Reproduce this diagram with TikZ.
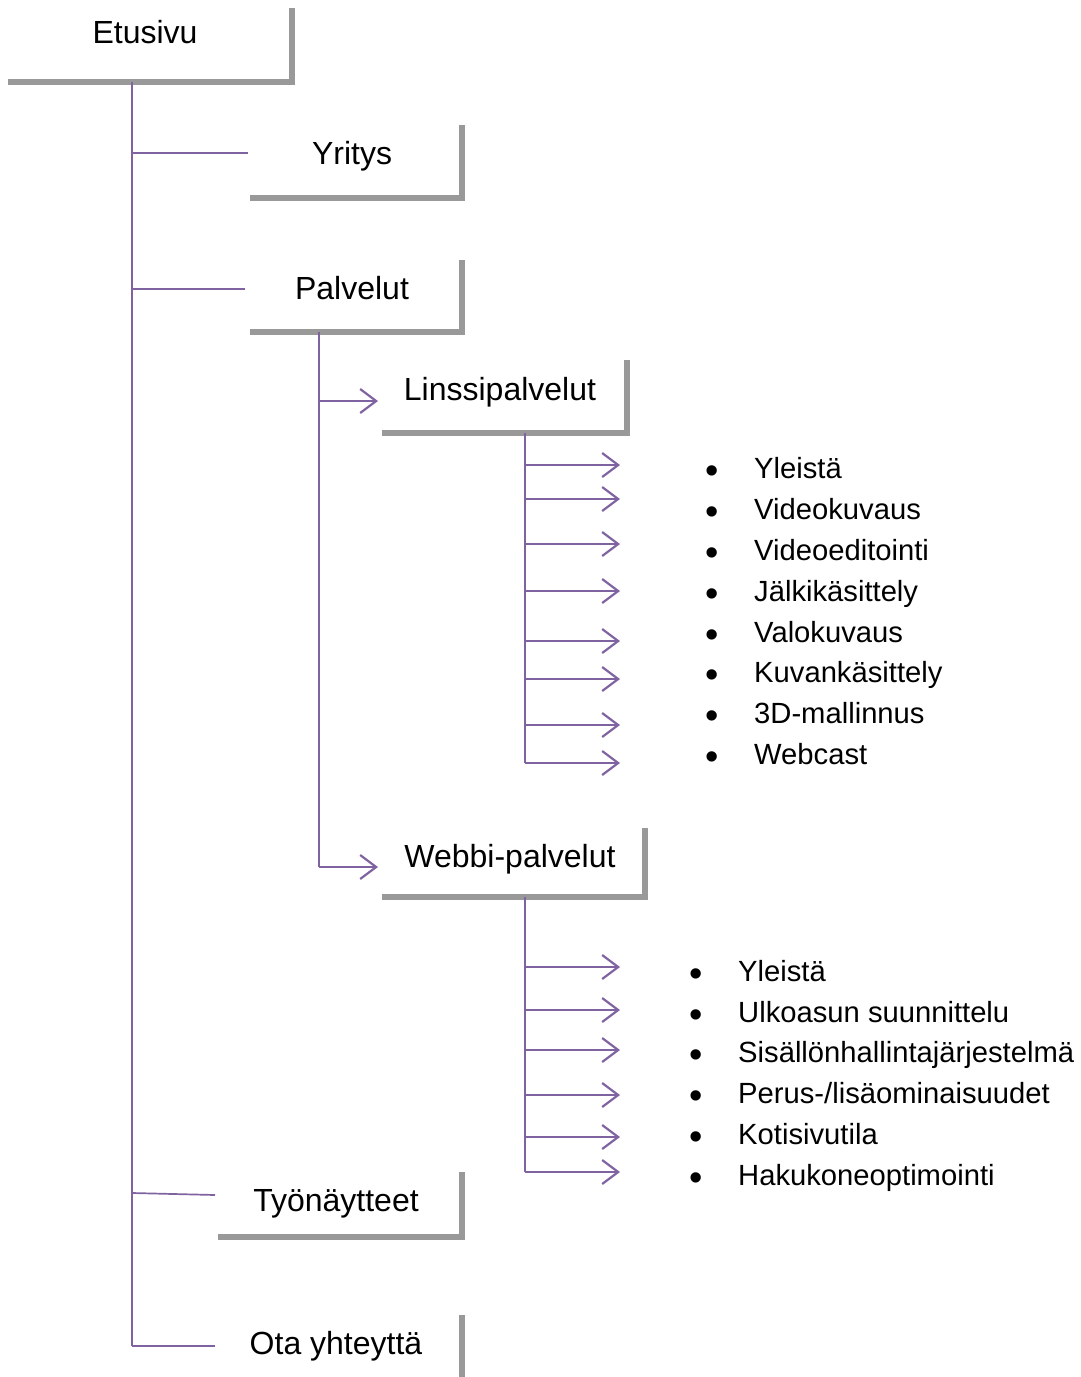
\documentclass[tikz,border=0pt]{standalone}
\usepackage{fontspec}
\setmainfont{Liberation Sans}
\usetikzlibrary{arrows.meta}
\definecolor{conn}{HTML}{7F63A1}
\definecolor{frame}{HTML}{999999}
\tikzset{
  lbl/.style={anchor=base, inner sep=0pt, font=\fontsize{32}{36}\selectfont},
  item/.style={anchor=base west, inner sep=0pt, font=\fontsize{29.2}{33}\selectfont},
  bul/.style={anchor=base, inner sep=0pt, font=\fontsize{38}{40}\selectfont},
  frameline/.style={draw=frame, line width=5.5pt},
  link/.style={draw=conn, line width=1.7pt},
  arr/.style={draw=conn, line width=2.2pt, -{Straight Barb[length=16pt,width=24pt,line width=2.2pt]}},
}
\begin{document}
\begin{tikzpicture}[x=1pt,y=-1pt]
\useasboundingbox (0,0) rectangle (1081,1377);

% ---- boxes (text + L-shaped frames)
\node[lbl] (etusivu) at (145,43) {Etusivu};
\draw[frameline] (292,8) -- (292,82) -- (8,82);
\coordinate (etB) at (132,82);

\node[lbl] (yritys) at (352,164) {Yritys};
\draw[frameline] (462,125) -- (462,198) -- (250,198);
\coordinate (yrL) at (248,153);

\node[lbl] (palvelut) at (352,299) {Palvelut};
\draw[frameline] (462,260) -- (462,332) -- (250,332);
\coordinate (paL) at (245,289);
\coordinate (paB) at (319,332);

\node[lbl] (linssi) at (500,400) {Linssipalvelut};
\draw[frameline] (627,360) -- (627,433) -- (382,433);
\coordinate (liL) at (378,401);
\coordinate (liB) at (525,433);

\node[lbl] (webbi) at (510,867) {Webbi-palvelut};
\draw[frameline] (645,828) -- (645,897) -- (382,897);
\coordinate (weL) at (378,867);
\coordinate (weB) at (525,897);

\node[lbl] (tyo) at (336,1211) {Työnäytteet};
\draw[frameline] (462,1172) -- (462,1237) -- (218,1237);
\coordinate (tyL) at (215,1195);

\node[lbl] (ota) at (336,1354) {Ota yhteyttä};
\draw[frameline] (462,1315) -- (462,1377);
\coordinate (otL) at (215,1346);

% ---- main trunk
\coordinate (trunkEnd) at (132,1346);
\draw[link] (etB) -- (trunkEnd);
\draw[link] (132,153) -- (yrL);
\draw[link] (132,289) -- (paL);
\draw[link] (132,1193) -- (tyL);
\draw[link] (trunkEnd) -- (otL);

% ---- Palvelut sub-branches
\draw[link, line width=2.2pt] (paB) -- (319,867);
\draw[arr] (319,401) -- (liL);
\draw[arr] (319,867) -- (weL);

% ---- Linssipalvelut items
\draw[link, line width=2.2pt] (liB) -- (525,763);
\foreach \y [count=\i] in {465,499,544,591,641,679,725,763}{
  \coordinate (la\i) at (620,\y);
  \draw[arr] (525,\y) -- (la\i);
}
\foreach \t/\y [count=\i] in {Yleistä/478, Videokuvaus/519, Videoeditointi/560, Jälkikäsittely/601, Valokuvaus/642, Kuvankäsittely/682, 3D-mallinnus/723, Webcast/764}{
  \node[bul] (lb\i) at (712,\y+5) {•};
  \node[item] (lt\i) at (754,\y) {\t};
}

% ---- Webbi-palvelut items
\draw[link, line width=2.2pt] (weB) -- (525,1172);
\foreach \y [count=\i] in {967,1010,1050,1095,1137,1172}{
  \coordinate (wa\i) at (620,\y);
  \draw[arr] (525,\y) -- (wa\i);
}
\foreach \t/\y [count=\i] in {{Yleistä}/981, {Ulkoasun suunnittelu}/1022, {Sisällönhallintajärjestelmä}/1062, {Perus-/lisäominaisuudet}/1103, {Kotisivutila}/1144, {Hakukoneoptimointi}/1185}{
  \node[bul] (wb\i) at (696,\y+5) {•};
  \node[item] (wt\i) at (738,\y) {\t};
}
\end{tikzpicture}
\end{document}
